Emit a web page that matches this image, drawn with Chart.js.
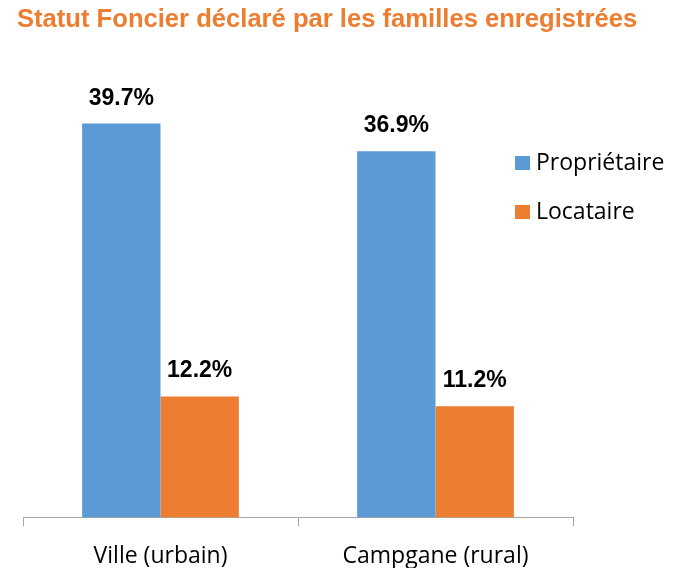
<!DOCTYPE html>
<html>
<head>
<meta charset="utf-8">
<script src="https://cdn.jsdelivr.net/npm/chart.js@4.4.0/dist/chart.umd.min.js"></script>
<style>
  html, body { margin: 0; padding: 0; background: #fff; }
  #wrap { width: 683px; height: 568px; }
</style>
</head>
<body>
<div id="wrap"><canvas id="myChart" width="683" height="568"></canvas></div>
<script>
const titre = 'Statut Foncier déclaré par les familles enregistrées';
const categories = ['Ville (urbain)', 'Campgane (rural)'];
const seriesLabels = ['Propriétaire', 'Locataire'];
const proprietaire = [39.7, 36.9];
const locataire = [12.2, 11.2];

const BLEU = '#5B9BD5';
const ORANGE = '#ED7D31';

// titre, valeurs au-dessus des barres et légende dessinés à la main
const decor = {
  id: 'decor',
  afterDatasetsDraw(chart) {
    const ctx = chart.ctx;
    ctx.save();

    // titre
    ctx.fillStyle = ORANGE;
    ctx.font = 'bold 25.6px "Liberation Sans"';
    ctx.textAlign = 'left';
    ctx.textBaseline = 'alphabetic';
    ctx.fillText(titre, 17, 27);

    // étiquettes de données
    ctx.fillStyle = '#000';
    ctx.font = 'bold 23px "Liberation Sans"';
    ctx.textAlign = 'center';
    chart.data.datasets.forEach((ds, i) => {
      chart.getDatasetMeta(i).data.forEach((bar, j) => {
        ctx.fillText(ds.data[j].toFixed(1) + '%', bar.x, bar.y - 19);
      });
    });

    // légende
    ctx.font = '23px "Open Sans"';
    ctx.textAlign = 'left';
    ctx.textBaseline = 'middle';
    chart.data.datasets.forEach((ds, i) => {
      const cy = 163 + i * 49;
      ctx.fillStyle = ds.backgroundColor;
      ctx.fillRect(515, cy - 7, 15, 14);
      ctx.fillStyle = '#000';
      ctx.fillText(ds.label, 536, cy);
    });

    ctx.restore();
  }
};

new Chart(document.getElementById('myChart'), {
  type: 'bar',
  data: {
    labels: categories,
    datasets: [
      { label: seriesLabels[0], data: proprietaire, backgroundColor: BLEU },
      { label: seriesLabels[1], data: locataire, backgroundColor: ORANGE }
    ]
  },
  options: {
    responsive: false,
    animation: false,
    layout: { padding: { top: 71, left: 23, right: 110, bottom: -18 } },
    datasets: { bar: { categoryPercentage: 0.57, barPercentage: 1.0 } },
    plugins: {
      legend: { display: false },
      title: { display: false },
      tooltip: { enabled: false }
    },
    scales: {
      x: {
        grid: { offset: true, drawOnChartArea: false, drawTicks: true, tickLength: 9, color: '#A6A6A6' },
        border: { color: '#A6A6A6', width: 1 },
        ticks: { color: '#000', padding: 16, font: { family: 'Open Sans', size: 23 } }
      },
      y: { display: false, min: 0, max: 45 }
    }
  },
  plugins: [decor]
});
</script>
</body>
</html>
